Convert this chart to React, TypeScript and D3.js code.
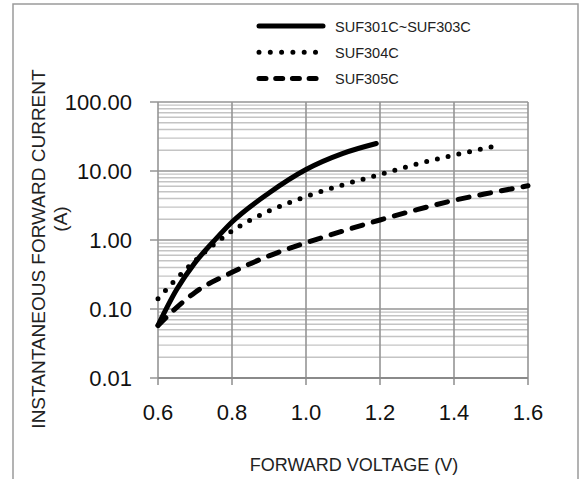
import React from "react";
import * as d3 from "d3";

const xTicks = [0.6, 0.8, 1.0, 1.2, 1.4, 1.6];
const yTicks = [0.01, 0.1, 1, 10, 100];
const yTickLabels = ["0.01", "0.10", "1.00", "10.00", "100.00"];

const seriesNames = ["SUF301C~SUF303C", "SUF304C", "SUF305C"];

const v301 = [0.6, 0.65, 0.7, 0.75, 0.8, 0.9, 1.0, 1.1, 1.19];
const i301 = [0.058, 0.19, 0.47, 0.95, 1.82, 4.8, 10.5, 18, 25];

const v304 = [0.6, 0.65, 0.7, 0.75, 0.8, 0.9, 1.0, 1.1, 1.2, 1.3, 1.4, 1.52];
const i304 = [0.141, 0.275, 0.5, 0.85, 1.35, 2.63, 4.27, 6.3, 8.9, 12.6, 17, 23.4];

const v305 = [0.6, 0.65, 0.7, 0.8, 0.9, 1.0, 1.1, 1.2, 1.3, 1.4, 1.5, 1.6];
const i305 = [0.0575, 0.105, 0.174, 0.34, 0.59, 0.91, 1.35, 1.95, 2.75, 3.76, 4.84, 6.1];

const FONT = "'Liberation Sans', Arial, sans-serif";

export default function App() {
  const left = 158, right = 528, top = 102, bottom = 378;
  const x = d3.scaleLinear().domain([0.6, 1.6]).range([left, right]);
  const y = d3.scaleLog().domain([0.01, 100]).range([bottom, top]);

  const minor: number[] = [];
  for (let dec = 0.01; dec < 100; dec *= 10) {
    for (let k = 2; k <= 9; k++) minor.push(+(dec * k).toPrecision(3));
  }

  const line = d3
    .line<[number, number]>()
    .x((d) => x(d[0]))
    .y((d) => y(d[1]))
    .curve(d3.curveMonotoneX);

  const series = [
    { v: v301, i: i301, dash: undefined as string | undefined },
    { v: v304, i: i304, dash: "0 11" },
    { v: v305, i: i305, dash: "11 11" },
  ];
  const legendDash = [undefined, "0 11.3", "7 9.7"];

  return (
    <svg
      width={584}
      height={479}
      style={{ position: "absolute", left: 0, top: 0, background: "#fff" }}
    >
      <rect x={0} y={0} width={584} height={479} fill="#fff" />
      <rect x={13} y={4} width={565} height={500} fill="none" stroke="#9a9a9a" strokeWidth={1.5} />

      {/* minor grid */}
      {minor.map((m, idx) => (
        <line key={"mn" + idx} x1={left} x2={right} y1={y(m)} y2={y(m)} stroke="#c4c4c4" strokeWidth={1.4} />
      ))}
      {/* major horizontal */}
      {yTicks.map((t, idx) => (
        <line key={"mj" + idx} x1={left - 8} x2={right} y1={y(t)} y2={y(t)} stroke="#959595" strokeWidth={1.6} />
      ))}
      {/* vertical grid */}
      {xTicks.map((t, idx) => (
        <line key={"vx" + idx} x1={x(t)} x2={x(t)} y1={top} y2={bottom + 7} stroke="#959595" strokeWidth={1.6} />
      ))}
      <line x1={left} x2={right} y1={bottom} y2={bottom} stroke="#8a8a8a" strokeWidth={2} />

      {/* y tick labels */}
      {yTicks.map((t, idx) => (
        <text key={"yl" + idx} x={132} y={y(t) + 8} textAnchor="end" fontFamily={FONT} fontSize={22} fill="#111">
          {yTickLabels[idx]}
        </text>
      ))}
      {/* x tick labels */}
      {xTicks.map((t, idx) => (
        <text key={"xl" + idx} x={x(t)} y={420} textAnchor="middle" fontFamily={FONT} fontSize={22} fill="#111">
          {t.toFixed(1)}
        </text>
      ))}

      {/* series */}
      {series.map((s, idx) => (
        <path
          key={"s" + idx}
          d={line(s.v.map((v, k) => [v, s.i[k]] as [number, number])) || ""}
          fill="none"
          stroke="#000"
          strokeWidth={5}
          strokeLinecap="round"
          strokeDasharray={s.dash}
        />
      ))}

      {/* legend */}
      {seriesNames.map((n, idx) => {
        const ly = 26 + idx * 26.2;
        return (
          <g key={"lg" + idx}>
            <line x1={259} x2={323} y1={ly} y2={ly} stroke="#000" strokeWidth={5} strokeLinecap="round" strokeDasharray={legendDash[idx]} />
            <text x={335} y={ly + 5.5} fontFamily={FONT} fontSize={14.5} fill="#222">
              {n}
            </text>
          </g>
        );
      })}

      {/* axis titles */}
      <text x={354} y={471} textAnchor="middle" fontFamily={FONT} fontSize={18} fill="#222">
        FORWARD VOLTAGE (V)
      </text>
      <text transform="translate(45,249) rotate(-90)" textAnchor="middle" fontFamily={FONT} fontSize={19} fill="#222">
        INSTANTANEOUS FORWARD CURRENT
      </text>
      <text transform="translate(67,219) rotate(-90)" textAnchor="middle" fontFamily={FONT} fontSize={19} fill="#222">
        (A)
      </text>
    </svg>
  );
}
